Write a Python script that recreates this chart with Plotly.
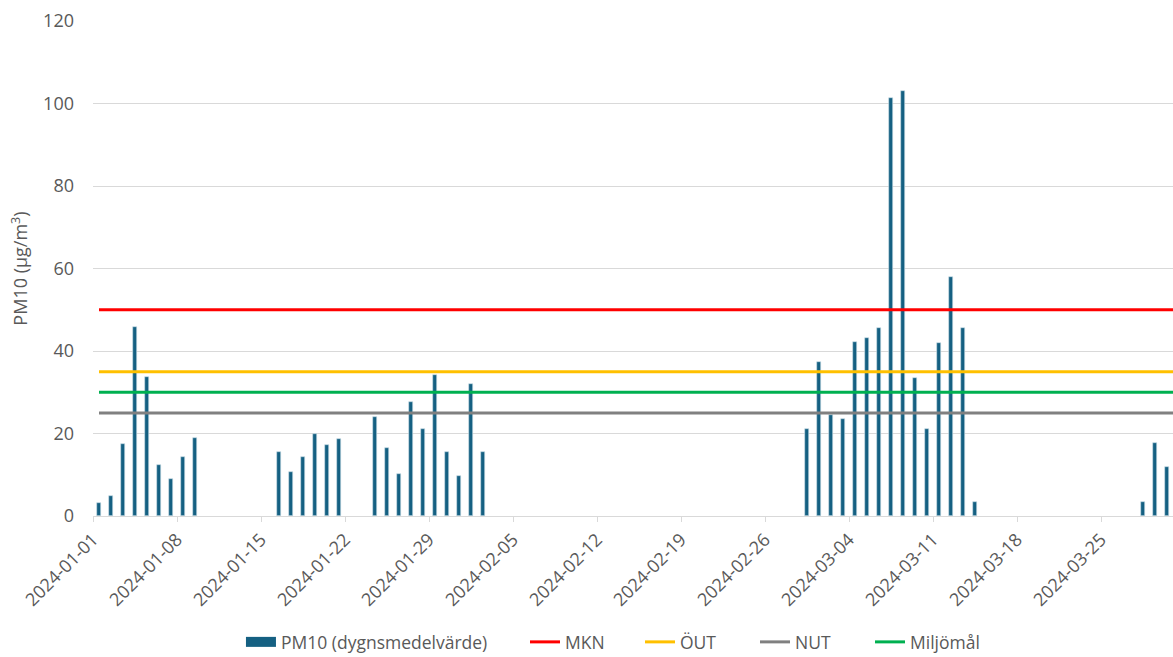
import plotly.graph_objects as go
import pandas as pd

# ---- data ----
dates = pd.date_range("2024-01-01", "2024-03-31", freq="D").strftime("%Y-%m-%d").tolist()

pm10_values = (
    [3.1, 4.8, 17.4, 45.9, 33.8, 12.3, 8.9, 14.4, 19.0]          # Jan 1-9
    + [None] * 6                                                  # Jan 10-15
    + [15.6, 10.6, 14.4, 19.8, 17.3, 18.6]                        # Jan 16-21
    + [None] * 2                                                  # Jan 22-23
    + [23.9, 16.4, 10.2, 27.6, 21.0, 34.3, 15.6, 9.8, 31.9, 15.6] # Jan 24 - Feb 2
    + [None] * 26                                                 # Feb 3 - Feb 28
    + [21.0, 37.3, 24.5, 23.5, 42.3, 43.1, 45.6, 101.4, 103.0,
       33.5, 21.0, 41.9, 58.0, 45.6, 3.5]                         # Feb 29 - Mar 14
    + [None] * 13                                                 # Mar 15 - Mar 27
    + [3.5, 17.6, 11.8]                                           # Mar 28-30
    + [None]                                                      # Mar 31
)

limit_names = ["MKN", "ÖUT", "NUT", "Miljömål"]
limit_values = [50, 35, 25, 30]
limit_colors = ["#FF0000", "#FFC000", "#808080", "#00B050"]

bar_name = "PM10 (dygnsmedelvärde)"
bar_color = "#156082"
y_ticks = [0, 20, 40, 60, 80, 100, 120]
x_range = ["2024-01-01", "2024-03-31"]

DAY_MS = 86400000
text_color = "#595959"
grid_color = "#D9D9D9"
font_family = "Open Sans, Noto Sans, sans-serif"

fig = go.Figure()

fig.add_trace(go.Bar(
    x=dates, y=pm10_values, name=bar_name,
    xperiod=DAY_MS, xperiodalignment="middle",
    width=0.38 * DAY_MS,
    marker=dict(color=bar_color, line=dict(width=0.6, color="#CFE0EA")),
    showlegend=False,
))
# legend swatch for bars (wide rectangle like the original)
fig.add_trace(go.Scatter(
    x=[None], y=[None], mode="lines", name=bar_name,
    line=dict(color=bar_color, width=10), legend="legend",
))

for name, val, col in zip(limit_names, limit_values, limit_colors):
    fig.add_trace(go.Scatter(
        x=dates, y=[val] * len(dates), mode="lines", name=name,
        xperiod=DAY_MS, xperiodalignment="middle",
        line=dict(color=col, width=3),
        hoverinfo="skip", legend="legend2",
    ))

legend_font = dict(size=17.5, color=text_color)
legend_y = 1 - 642 / 657
fig.update_layout(
    width=1173, height=657,
    margin=dict(l=93, r=0, t=21, b=141),
    paper_bgcolor="white", plot_bgcolor="white",
    font=dict(family=font_family, size=18, color=text_color),
    bargap=0,
    legend=dict(
        orientation="h", x=0.137, xanchor="left",
        yref="container", y=legend_y, yanchor="middle",
        font=legend_font, bgcolor="rgba(0,0,0,0)",
    ),
    legend2=dict(
        orientation="h", x=0.4, xanchor="left",
        yref="container", y=legend_y, yanchor="middle",
        font=legend_font, entrywidth=70, entrywidthmode="pixels",
        bgcolor="rgba(0,0,0,0)",
    ),
    xaxis=dict(
        type="date",
        range=x_range,
        tick0="2024-01-01", dtick=7 * DAY_MS,
        tickformat="%Y-%m-%d", tickangle=-45,
        tickfont=dict(size=18, color=text_color),
        showgrid=False,
        showline=True, linecolor=grid_color, linewidth=1,
        ticks="outside", ticklen=5, tickcolor=grid_color,
        zeroline=False, automargin=False,
    ),
    yaxis=dict(
        range=[0, 120],
        tickvals=y_ticks,
        tickfont=dict(size=18, color=text_color),
        showgrid=True, gridcolor=grid_color, gridwidth=1,
        zeroline=False, showline=False,
        ticks="", ticklabelstandoff=18, automargin=False,
        title=dict(text="PM10 (µg/m<sup>3</sup>)", font=dict(size=18, color=text_color), standoff=10),
    ),
)

fig.write_html(
    "out.html",
    config={"displayModeBar": False},
    post_script="document.body.style.margin='0';document.body.style.overflow='hidden';",
)
